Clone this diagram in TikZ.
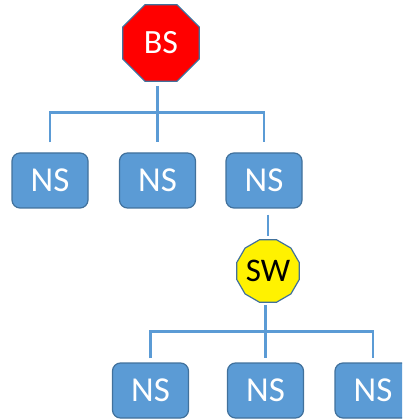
\documentclass[tikz,border=0pt]{standalone}
\usepackage{fontspec}
\setmainfont{Carlito}
\usetikzlibrary{shapes.geometric}
\definecolor{boxblue}{HTML}{5B9BD5}
\definecolor{edgeblue}{HTML}{41719C}

\begin{document}
\begin{tikzpicture}[y=-1pt,x=1pt,
  nsbox/.style={draw=edgeblue,fill=boxblue,line width=1.2pt,rounded corners=8pt,
    minimum width=76pt,minimum height=55pt,inner sep=0pt,text=white,
    font=\fontsize{35}{40}\selectfont},
  hubpoly/.style={regular polygon,draw=edgeblue,line width=1.2pt,inner sep=0pt},
  link/.style={draw=boxblue,line width=2.5pt}]
  \useasboundingbox (0,0) rectangle (402,419);
  \clip (0,0) rectangle (402,419);
  \node[hubpoly,regular polygon sides=8,minimum size=83pt,fill=red,text=white,
    font=\fontsize{34}{38}\selectfont] (bs) at (161,43) {BS};
  \node[nsbox] (ns1) at (50,180.5) {NS};
  \node[nsbox] (ns2) at (157.5,180.5) {NS};
  \node[nsbox] (ns3) at (264,180.5) {NS};
  \node[hubpoly,regular polygon sides=12,minimum size=62pt,fill=yellow,text=black,
    font=\fontsize{33}{37}\selectfont] (sw) at (268,271) {SW};
  \node[nsbox] (ns4) at (150.5,390.5) {NS};
  \node[nsbox] (ns5) at (265.5,390.5) {NS};
  \node[nsbox] (ns6) at (373,390.5) {NS};
  % base station tree
  \draw[link] ([yshift=-4pt]bs.south -| ns2.north) -- ([yshift=10pt]ns2.north);
  \draw[link] ([yshift=10pt]ns1.north) -- ++(0,-30) -| ([yshift=10pt]ns3.north);
  % switch tree
  \draw[link] ([yshift=-6pt]ns3.south -| sw.north) -- ([yshift=3pt]sw.north);
  \draw[link] ([yshift=-2pt]sw.south -| ns5.north) -- ([yshift=4pt]ns5.north);
  \draw[link] ([yshift=4pt]ns4.north) -- ++(0,-27) -| ([yshift=4pt]ns6.north);
\end{tikzpicture}
\end{document}
